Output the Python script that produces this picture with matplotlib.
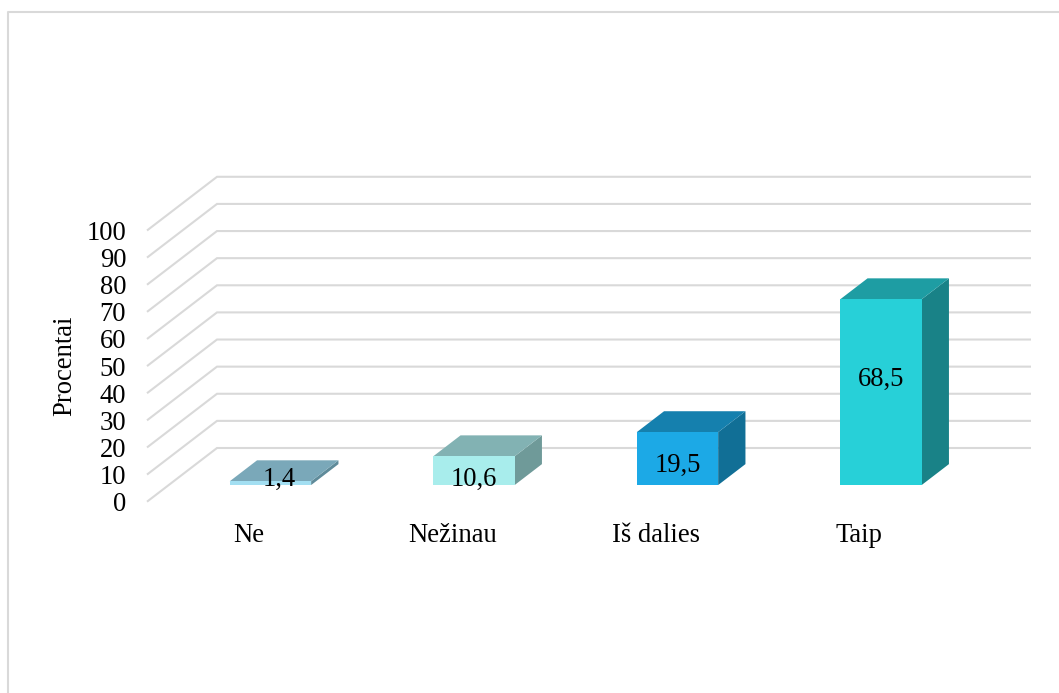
import matplotlib
matplotlib.use('Agg')
import matplotlib.pyplot as plt
from matplotlib.patches import Polygon

plt.rcParams['font.family'] = ['Liberation Serif', 'DejaVu Serif']

categories = ['Ne', 'Nežinau', 'Iš dalies', 'Taip']
values = [1.4, 10.6, 19.5, 68.5]
value_labels = ['1,4', '10,6', '19,5', '68,5']
yticks = [0, 10, 20, 30, 40, 50, 60, 70, 80, 90, 100]

front_colors = ['#A3DFF2', '#A8EDEC', '#1CA9E6', '#27D0D8']
top_colors = ['#7AA8B9', '#82B2B3', '#1580AE', '#1E9DA3']
side_colors = ['#5F8B9A', '#6F9A99', '#116F96', '#198287']

W, H = 1059, 693
FS = 19.2
fig = plt.figure(figsize=(W / 100, H / 100), dpi=100)

# light frame, open on the right and at the bottom like the source
frame = fig.add_axes([0, 0, 1, 1])
frame.set_xlim(0, W)
frame.set_ylim(H, 0)
frame.axis('off')
frame.plot([8.2, 8.2, W], [H, 12, 12], color='#D9D9D9', lw=1.5)

# axes = front plane of the 3d box
left, right, top, bottom = 147, 961, 230.5, 501.7
ax = fig.add_axes([left / W, 1 - bottom / H, (right - left) / W, (bottom - top) / H])
ax.set_xlim(-0.5, 3.5)
ax.set_ylim(0, 100)
for s in ax.spines.values():
    s.set_visible(False)
ax.patch.set_visible(False)

# depth of the box, in data units
DX = 70 / ((right - left) / 4)
DY = 53.7 / ((bottom - top) / 100)


def proj(x, y, d):
    return (x + d * DX, y + d * DY)


# gridlines: slanted floor part and then the back wall
for v in yticks:
    p0 = proj(-0.5, v, 0)
    p1 = proj(-0.5, v, 1)
    p2 = proj(3.5, v, 1)
    ax.plot([p0[0], p1[0], p2[0]], [p0[1], p1[1], p2[1]], color='#D9D9D9', lw=1.5,
            clip_on=False, zorder=1, solid_joinstyle='miter', solid_capstyle='butt')

# bars
half = 0.2
d0, d1 = 0.31, 0.70
for i, v in enumerate(values):
    x0, x1 = i - half, i + half
    front = [proj(x0, 0, d0), proj(x1, 0, d0), proj(x1, v, d0), proj(x0, v, d0)]
    roof = [proj(x0, v, d0), proj(x1, v, d0), proj(x1, v, d1), proj(x0, v, d1)]
    side = [proj(x1, 0, d0), proj(x1, 0, d1), proj(x1, v, d1), proj(x1, v, d0)]
    ax.add_patch(Polygon(side, color=side_colors[i], lw=0, clip_on=False, zorder=3))
    ax.add_patch(Polygon(roof, color=top_colors[i], lw=0, clip_on=False, zorder=3))
    ax.add_patch(Polygon(front, color=front_colors[i], lw=0, clip_on=False, zorder=4))

    # labels sit a bit above the middle of the bar front, the flat bar has it further right
    base = proj(i, 0, d0)
    xoff = 6 if v < 5 else 0
    ax.annotate(value_labels[i], xy=base, xycoords='data',
                xytext=(xoff, max(4.2, 1.264 * v - 10.4)), textcoords='offset points',
                ha='center', va='center', fontsize=FS, color='black', zorder=5,
                annotation_clip=False)

ax.set_xticks(range(4))
ax.set_xticklabels(categories, fontsize=FS)
ax.set_yticks(yticks)
ax.set_yticklabels([str(v) for v in yticks], fontsize=FS)
ax.tick_params(axis='both', length=0)
ax.tick_params(axis='y', pad=15)
ax.tick_params(axis='x', pad=15.3)
ax.set_ylabel('Procentai', fontsize=FS, labelpad=6.5)

fig.savefig('out.png', dpi=100)
